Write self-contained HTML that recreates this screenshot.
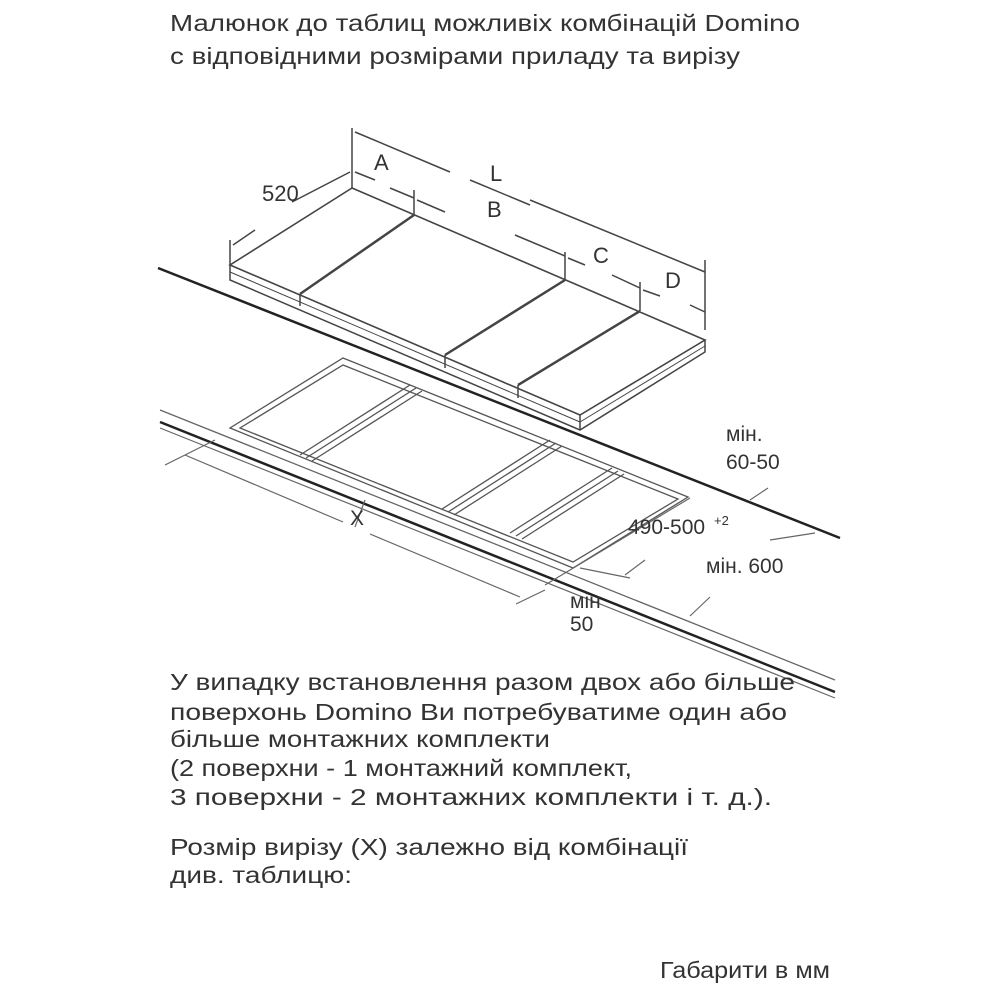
<!DOCTYPE html>
<html><head><meta charset="utf-8"><style>
html,body{margin:0;padding:0;background:#fff;width:1000px;height:1000px;overflow:hidden}
svg{display:block}
text{font-family:"Liberation Sans",sans-serif;fill:#333}
</style></head><body>
<svg width="1000" height="1000" viewBox="0 0 1000 1000" xmlns="http://www.w3.org/2000/svg">
<g font-size="23">
<text x="170" y="31" textLength="630" lengthAdjust="spacingAndGlyphs">Малюнок до таблиц можливіх комбінацій Domino</text>
<text x="170" y="64" textLength="570" lengthAdjust="spacingAndGlyphs">с відповідними розмірами приладу та вирізу</text>
</g>
<g stroke="#444" fill="none" stroke-width="1.5">
<line x1="158" y1="268" x2="840" y2="538" stroke-width="2.5" stroke="#222"/>
<polygon points="352,188 705,340 580,415 230,265" fill="#fff" stroke-width="1.6"/>
<polyline points="230,265 230,280 580,430 705,352 705,340"/>
<line x1="580" y1="415" x2="580" y2="430"/>
<line x1="230" y1="272" x2="580" y2="422" stroke-width="1"/>
<line x1="580" y1="422" x2="705" y2="346" stroke-width="1"/>
<line x1="414" y1="215" x2="300" y2="294" stroke-width="2.5"/>
<line x1="565" y1="280" x2="445" y2="355" stroke-width="2.5"/>
<line x1="640" y1="311" x2="518" y2="385" stroke-width="2.5"/>
<line x1="300" y1="294" x2="300" y2="306"/><line x1="445" y1="355" x2="445" y2="368"/><line x1="518" y1="385" x2="518" y2="398"/>
<line x1="352" y1="128" x2="352" y2="188"/>
<line x1="230" y1="240" x2="230" y2="265"/>
<line x1="355" y1="132" x2="450" y2="172"/><line x1="470" y1="180" x2="530" y2="205"/>
<line x1="530" y1="200" x2="705" y2="272"/>
<line x1="705" y1="260" x2="705" y2="330"/>
<line x1="233" y1="245" x2="255" y2="230"/><line x1="292" y1="202" x2="350" y2="172"/>
<line x1="355" y1="172" x2="375" y2="180"/>
<line x1="390" y1="188" x2="414" y2="198"/>
<line x1="414" y1="190" x2="414" y2="215"/>
<line x1="417" y1="200" x2="445" y2="212"/>
<line x1="515" y1="235" x2="565" y2="256"/>
<line x1="565" y1="252" x2="565" y2="280"/>
<line x1="568" y1="258" x2="585" y2="265"/>
<line x1="612" y1="275" x2="640" y2="288"/>
<line x1="640" y1="282" x2="640" y2="311"/>
<line x1="643" y1="290" x2="660" y2="296"/>
<line x1="690" y1="305" x2="705" y2="312"/>
</g>
<g font-size="22">
<text x="262" y="201">520</text>
<text x="374" y="170">A</text>
<text x="490" y="181">L</text>
<text x="487" y="217">B</text>
<text x="593" y="263">C</text>
<text x="665" y="288">D</text>
</g>
<g stroke="#555" fill="none" stroke-width="1.3">
<polygon points="343,358 688,497 573,568 230,428"/>
<polygon points="343,365 678,499 573,562 240,428"/>
<line x1="410" y1="385" x2="300" y2="455"/><line x1="416" y1="388" x2="306" y2="458"/><line x1="422" y1="391" x2="312" y2="461"/>
<line x1="550" y1="440" x2="442" y2="509"/><line x1="556" y1="443" x2="448" y2="512"/><line x1="562" y1="446" x2="454" y2="515"/>
<line x1="612" y1="468" x2="510" y2="533"/><line x1="618" y1="471" x2="516" y2="536"/><line x1="624" y1="474" x2="522" y2="539"/>
</g>
<g stroke="#222" fill="none">
<line x1="160" y1="410" x2="835" y2="680" stroke-width="1.3" stroke="#666"/>
<line x1="160" y1="422" x2="835" y2="692" stroke-width="2.5"/>
<line x1="160" y1="428" x2="835" y2="698" stroke-width="1.2" stroke="#666"/>
</g>
<g stroke="#666" fill="none" stroke-width="1.2">
<line x1="165" y1="465" x2="215" y2="440"/>
<line x1="185" y1="455" x2="343" y2="522"/>
<line x1="355" y1="527" x2="365" y2="500"/>
<line x1="370" y1="534" x2="520" y2="597"/>
<line x1="516" y1="604" x2="545" y2="590"/>
<line x1="545" y1="585" x2="690" y2="498"/>
<line x1="580" y1="568" x2="630" y2="578"/>
<line x1="625" y1="575" x2="645" y2="560"/>
<line x1="690" y1="616" x2="710" y2="597"/>
<line x1="750" y1="500" x2="768" y2="488"/>
<line x1="770" y1="540" x2="815" y2="533"/>
</g>
<g font-size="21">
<text x="350" y="525">X</text>
<text x="726" y="441">мін.</text>
<text x="726" y="469">60-50</text>
<text x="628" y="534">490-500</text>
<text x="714" y="525" font-size="13">+2</text>
<text x="706" y="573">мін. 600</text>
<text x="570" y="608">мін</text>
<text x="570" y="631">50</text>
</g>
<g font-size="23">
<text x="170" y="690" textLength="625" lengthAdjust="spacingAndGlyphs">У випадку встановлення разом двох або більше</text>
<text x="170" y="720" textLength="617" lengthAdjust="spacingAndGlyphs">поверхонь Domino Ви потребуватиме один або</text>
<text x="170" y="747" textLength="380" lengthAdjust="spacingAndGlyphs">більше монтажних комплекти</text>
<text x="170" y="776" textLength="462" lengthAdjust="spacingAndGlyphs">(2 поверхни - 1 монтажний комплект,</text>
<text x="170" y="805" textLength="602" lengthAdjust="spacingAndGlyphs">3 поверхни - 2 монтажних комплекти і т. д.).</text>
<text x="170" y="855" textLength="518" lengthAdjust="spacingAndGlyphs">Розмір вирізу (X) залежно від комбінації</text>
<text x="170" y="883" textLength="182" lengthAdjust="spacingAndGlyphs">див. таблицю:</text>
<text x="660" y="978" textLength="170" lengthAdjust="spacingAndGlyphs">Габарити в мм</text>
</g>
</svg>
</body></html>
